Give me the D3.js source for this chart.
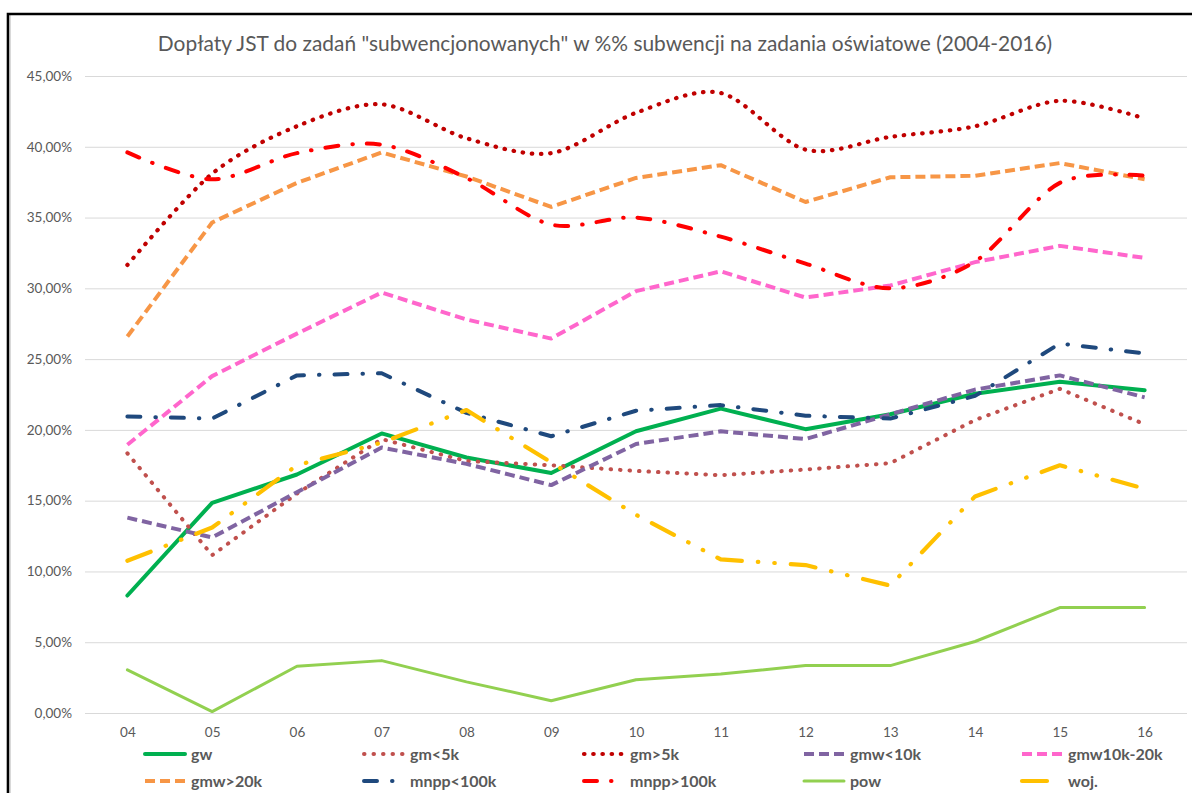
<!DOCTYPE html>
<html>
<head>
<meta charset="utf-8">
<script src="https://cdn.jsdelivr.net/npm/d3@7"></script>
<style>
  html, body { margin: 0; padding: 0; background: #fff; }
  svg { display: block; }
  text { font-family: Lato, "Open Sans", sans-serif; }
</style>
</head>
<body>
<svg id="chart" width="1192" height="793"></svg>
<script>
// ---- data ----
const years = ["04","05","06","07","08","09","10","11","12","13","14","15","16"];
const yTicks = [0, 5, 10, 15, 20, 25, 30, 35, 40, 45];
const titleText = "Dopłaty JST do zadań \"subwencjonowanych\" w %% subwencji na zadania oświatowe (2004-2016)";
const seriesNames = ["gw","gm<5k","gm>5k","gmw<10k","gmw10k-20k","gmw>20k","mnpp<100k","mnpp>100k","pow","woj."];

const gw         = [8.3, 14.85, 16.85, 19.75, 18.05, 16.95, 19.9, 21.5, 20.05, 21.1, 22.55, 23.4, 22.8];
const gmLt5k     = [18.35, 11.15, 15.5, 19.35, 17.8, 17.5, 17.1, 16.8, 17.2, 17.65, 20.7, 22.9, 20.4];
const gmGt5k     = [31.65, 38.1, 41.45, 43.0, 40.6, 39.55, 42.4, 43.8, 39.8, 40.7, 41.45, 43.25, 42.0];
const gmwLt10k   = [13.8, 12.4, 15.6, 18.75, 17.6, 16.1, 19.0, 19.9, 19.35, 21.1, 22.85, 23.85, 22.3];
const gmw10k20k  = [18.95, 23.8, 26.8, 29.7, 27.8, 26.45, 29.8, 31.2, 29.35, 30.2, 31.85, 33.0, 32.15];
const gmwGt20k   = [26.6, 34.65, 37.45, 39.6, 37.9, 35.75, 37.8, 38.7, 36.1, 37.85, 37.95, 38.85, 37.7];
const mnppLt100k = [20.95, 20.8, 23.85, 24.0, 21.2, 19.55, 21.35, 21.75, 21.0, 20.8, 22.4, 26.1, 25.4];
const mnppGt100k = [39.6, 37.7, 39.55, 40.15, 37.8, 34.5, 35.0, 33.65, 31.75, 30.0, 31.9, 37.45, 37.95];
const pow        = [3.05, 0.1, 3.3, 3.7, 2.2, 0.87, 2.35, 2.75, 3.35, 3.35, 5.05, 7.45, 7.45];
const woj        = [10.75, 13.1, 17.5, 19.1, 21.4, 17.7, 14.0, 10.85, 10.45, 9.0, 15.3, 17.5, 15.85];

const seriesValues = [gw, gmLt5k, gmGt5k, gmwLt10k, gmw10k20k, gmwGt20k, mnppLt100k, mnppGt100k, pow, woj];

// ---- styles (separate from data) ----
const styles = [
  { color: "#00B050", width: 4,   dash: null,                     cap: "round", smooth: false },
  { color: "#C0504D", width: 4,   dash: "0.5,9",                  cap: "round", smooth: false },
  { color: "#C00000", width: 4.2, dash: "0.5,8.7",                cap: "round", smooth: true  },
  { color: "#8064A2", width: 4,   dash: "10,5",                   cap: "butt",  smooth: false },
  { color: "#FF66CC", width: 4,   dash: "10,5",                   cap: "butt",  smooth: false },
  { color: "#F79646", width: 4,   dash: "10,5",                   cap: "butt",  smooth: false },
  { color: "#1F497D", width: 4,   dash: "13,15,0.5,15",           cap: "round", smooth: false },
  { color: "#FF0000", width: 4,   dash: "13,14,0.5,14",           cap: "round", smooth: true  },
  { color: "#92D050", width: 3,   dash: null,                     cap: "round", smooth: false },
  { color: "#FFC000", width: 4.2, dash: "25,16,0.5,16,0.5,16",    cap: "round", smooth: false }
];

const svg = d3.select("#chart");
const W = 1192, H = 793;
const plotL = 85, plotR = 1187, plotT = 76, plotB = 713;

svg.append("rect").attr("width", W).attr("height", H).attr("fill", "#fff");

// frame
svg.append("line").attr("x1", 10.5).attr("x2", 10.5).attr("y1", 15).attr("y2", H)
  .attr("stroke", "#D9D9D9").attr("stroke-width", 1);
svg.append("path").attr("d", `M8,${H} L8,14 L${W},14`)
  .attr("fill", "none").attr("stroke", "#000").attr("stroke-width", 2.6);

const x = d3.scalePoint().domain(years).range([plotL, plotR]).padding(0.5);
const y = d3.scaleLinear().domain([0, 45]).range([plotB, plotT]);

// y axis with gridlines
const yAxis = svg.append("g").attr("transform", `translate(${plotL},0)`)
  .call(d3.axisLeft(y).tickValues(yTicks).tickSize(-(plotR - plotL)).tickPadding(13)
    .tickFormat(d => d.toFixed(2).replace(".", ",") + "%"));
yAxis.select(".domain").remove();
yAxis.selectAll(".tick line").attr("stroke", "#D9D9D9").attr("stroke-width", 1);
yAxis.selectAll(".tick text").attr("fill", "#595959").style("font-size", "13.5px")
  .style("font-family", "Lato, 'Open Sans', sans-serif");

// x axis
const xAxis = svg.append("g").attr("transform", `translate(0,${plotB})`)
  .call(d3.axisBottom(x).tickSize(0).tickPadding(14));
xAxis.select(".domain").remove();
xAxis.selectAll(".tick text").attr("fill", "#595959").style("font-size", "13.5px")
  .style("font-family", "Lato, 'Open Sans', sans-serif");

// lines
const plotG = svg.append("g");
seriesValues.forEach((vals, i) => {
  const st = styles[i];
  const line = d3.line()
    .x((d, j) => x(years[j]))
    .y(d => y(d))
    .curve(st.smooth ? d3.curveCardinal.tension(0.1) : d3.curveLinear);
  plotG.append("path")
    .datum(vals)
    .attr("d", line)
    .attr("fill", "none")
    .attr("stroke", st.color)
    .attr("stroke-width", st.width)
    .attr("stroke-linecap", st.cap)
    .attr("stroke-linejoin", "round")
    .attr("stroke-dasharray", st.dash);
});

// title
const title = svg.append("text")
  .attr("x", 605).attr("y", 51)
  .attr("text-anchor", "middle")
  .attr("fill", "#595959")
  .style("font-size", "20px")
  .text(titleText);
const tw = title.node().getComputedTextLength();
title.style("font-size", (20 * 895 / tw).toFixed(2) + "px");

// legend
const legCols = [145, 364, 584, 804, 1022];
const legRows = [754, 781];
const legG = svg.append("g");
seriesNames.forEach((name, i) => {
  const st = styles[i];
  const cx = legCols[i % 5];
  const cy = legRows[Math.floor(i / 5)];
  legG.append("path")
    .attr("d", d3.line()([[cx, cy], [cx + 40, cy]]))
    .attr("fill", "none")
    .attr("stroke", st.color)
    .attr("stroke-width", st.width)
    .attr("stroke-linecap", st.cap)
    .attr("stroke-dasharray", st.dash);
  legG.append("text")
    .attr("x", cx + 46).attr("y", cy)
    .attr("dy", "0.35em")
    .attr("fill", "#595959")
    .style("font-size", "16px")
    .style("font-weight", "bold")
    .text(name);
});
</script>
</body>
</html>
